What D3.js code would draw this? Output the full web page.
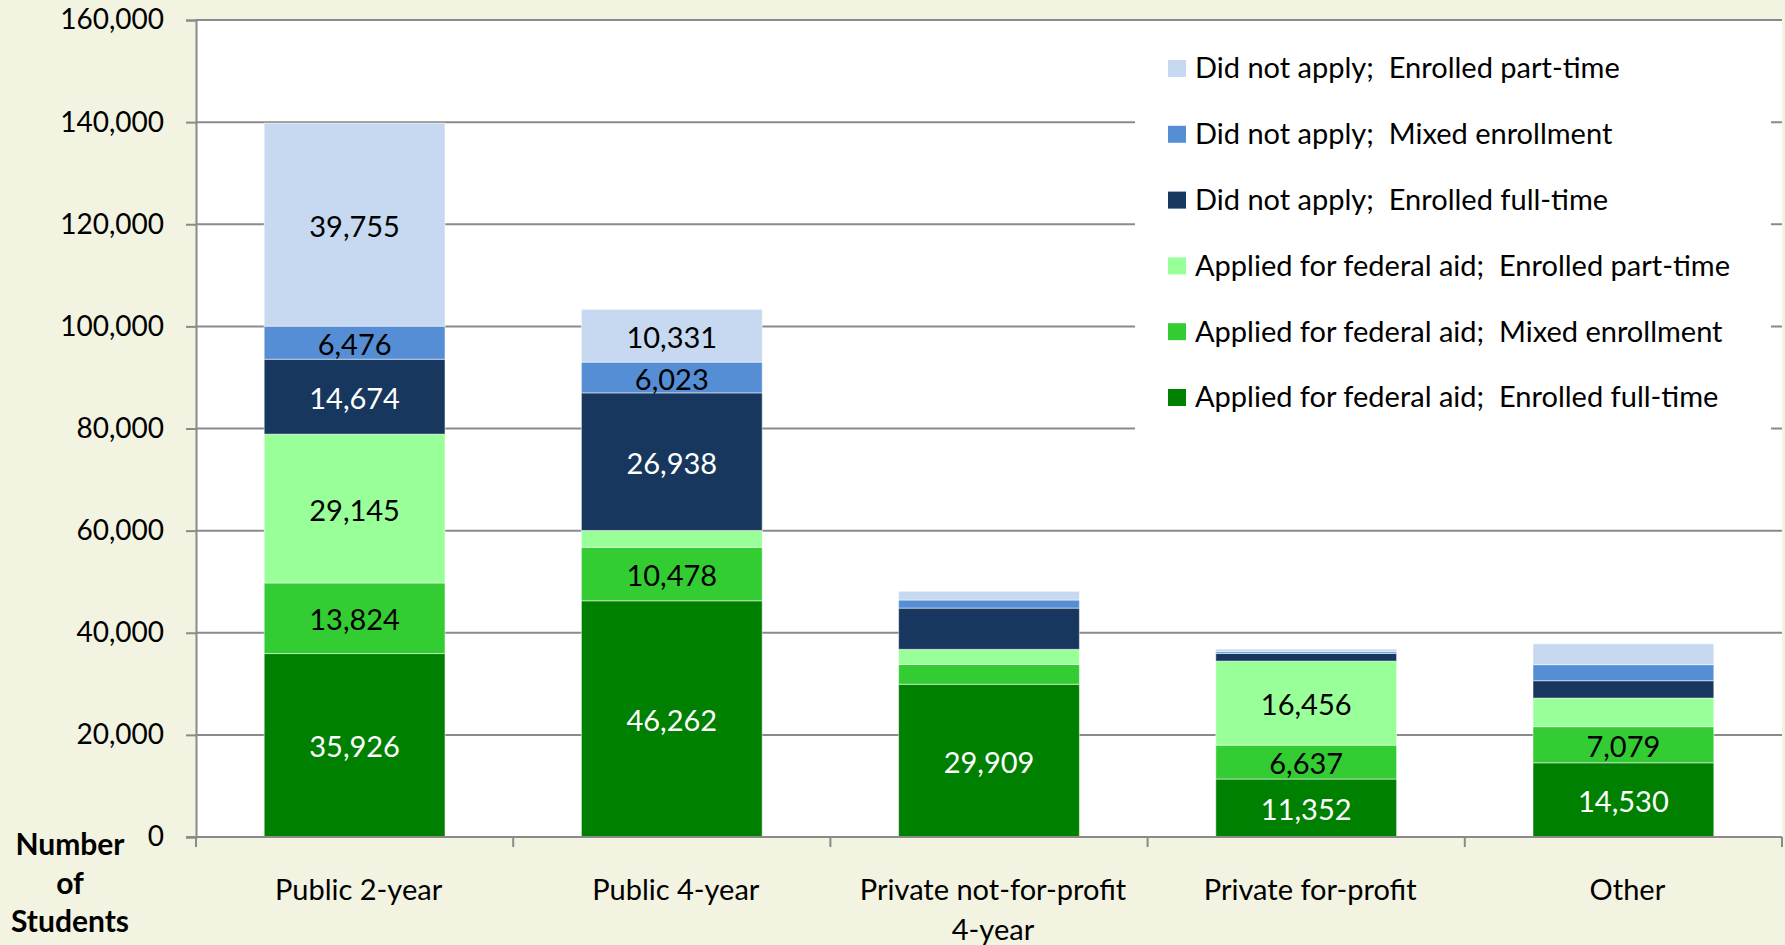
<!DOCTYPE html>
<html lang="en">
<head>
  <meta charset="UTF-8">
  <title>Number of students by sector</title>
  <style>
    body {
      margin: 0;
      background: #f2f3e1;
      font-family: Lato, sans-serif;
    }
  </style>
  <script src="https://cdn.jsdelivr.net/npm/d3@7"></script>
</head>
<body>
  <script>
    var categories = ["Public 2-year", "Public 4-year", "Private not-for-profit 4-year", "Private for-profit", "Other"];

    // stacked from the bottom up
    var seriesNames = [
      "Applied for federal aid;  Enrolled full-time",
      "Applied for federal aid;  Mixed enrollment",
      "Applied for federal aid;  Enrolled part-time",
      "Did not apply;  Enrolled full-time",
      "Did not apply;  Mixed enrollment",
      "Did not apply;  Enrolled part-time"
    ];
    var appliedFullTime = [35926, 46262, 29909, 11352, 14530];
    var appliedMixed = [13824, 10478, 3880, 6637, 7079];
    var appliedPartTime = [29145, 3300, 2960, 16456, 5600];
    var notAppliedFullTime = [14674, 26938, 8080, 1500, 3400];
    var notAppliedMixed = [6476, 6023, 1580, 350, 3150];
    var notAppliedPartTime = [39755, 10331, 1710, 500, 4080];
    // which segments carry a value label (same order as the series)
    var labelShown = [
      [true, true, true, true, true],
      [true, true, false, true, true],
      [true, false, false, true, false],
      [true, true, false, false, false],
      [true, true, false, false, false],
      [true, true, false, false, false]
    ];
    var colors = ["#008000", "#33cc33", "#99ff99", "#17375e", "#558ed5", "#c6d9f1"];
    var labelColors = ["#fff", "#000", "#000", "#fff", "#000", "#000"];
    var yTicks = [0, 20000, 40000, 60000, 80000, 100000, 120000, 140000, 160000];

    var seriesValues = [appliedFullTime, appliedMixed, appliedPartTime,
      notAppliedFullTime, notAppliedMixed, notAppliedPartTime];

    var rows = categories.map(function(c, i) {
      var r = { category: c };
      seriesNames.forEach(function(s, j) { r[s] = seriesValues[j][i]; });
      return r;
    });

    var W = 1785, H = 945;
    var plotL = 196, plotR = 1782, plotT = 20, plotB = 837;
    var fontSize = "29px";

    var svg = d3.select("body").append("svg")
      .attr("width", W).attr("height", H)
      .style("display", "block");

    svg.append("rect")
      .attr("x", plotL).attr("y", plotT)
      .attr("width", plotR - plotL).attr("height", plotB - plotT)
      .attr("fill", "#fff");

    var x = d3.scaleBand().domain(categories).range([plotL, plotR])
      .paddingInner(0.43).paddingOuter(0.215);
    var y = d3.scaleLinear().domain([0, 160000]).range([plotB, plotT]);

    // gridlines
    svg.append("g").selectAll("line")
      .data(yTicks.filter(function(d) { return d > 0; }))
      .enter().append("line")
      .attr("x1", plotL).attr("x2", plotR)
      .attr("y1", function(d) { return y(d); })
      .attr("y2", function(d) { return y(d); })
      .attr("stroke", "#8a8a8a")
      .attr("stroke-width", 2);

    // stacked bars
    var stacked = d3.stack().keys(seriesNames)(rows);

    var layers = svg.append("g").selectAll("g")
      .data(stacked)
      .enter().append("g")
      .attr("fill", function(d, i) { return colors[i]; });

    layers.selectAll("rect")
      .data(function(d) { return d; })
      .enter().append("rect")
      .attr("x", function(d) { return x(d.data.category); })
      .attr("y", function(d) { return y(d[1]); })
      .attr("width", x.bandwidth())
      .attr("height", function(d) { return y(d[0]) - y(d[1]); })
      .attr("stroke", "rgba(255,255,255,0.5)")
      .attr("stroke-width", 1);

    // value labels
    var fmt = d3.format(",");
    stacked.forEach(function(layer, j) {
      svg.append("g").selectAll("text")
        .data(layer.filter(function(d, i) { return labelShown[j][i]; }))
        .enter().append("text")
        .attr("x", function(d) { return x(d.data.category) + x.bandwidth() / 2; })
        .attr("y", function(d) { return (y(d[0]) + y(d[1])) / 2; })
        .attr("dy", "0.42em")
        .attr("text-anchor", "middle")
        .attr("fill", labelColors[j])
        .style("font-size", fontSize)
        .text(function(d) { return fmt(d[1] - d[0]); });
    });

    // y axis
    var yAxis = svg.append("g")
      .attr("transform", "translate(" + plotL + ",0)")
      .call(d3.axisLeft(y).tickValues(yTicks).tickFormat(fmt).tickSize(10).tickPadding(22));
    yAxis.select(".domain").attr("stroke", "#8a8a8a").attr("stroke-width", 2);
    yAxis.selectAll(".tick line").attr("stroke", "#8a8a8a").attr("stroke-width", 2);
    yAxis.selectAll(".tick text").style("font-size", "28px").attr("fill", "#000")
      .style("font-family", "Lato, sans-serif");

    // x axis: ticks between categories
    var boundaries = categories.map(function(c) { return x(c) - x.step() * x.paddingInner() / 2; });
    boundaries.push(plotR);
    svg.append("line")
      .attr("x1", plotL - 10).attr("x2", plotR)
      .attr("y1", plotB).attr("y2", plotB)
      .attr("stroke", "#8a8a8a").attr("stroke-width", 2);
    svg.append("g").selectAll("line")
      .data(boundaries)
      .enter().append("line")
      .attr("x1", function(d) { return d; }).attr("x2", function(d) { return d; })
      .attr("y1", plotB).attr("y2", plotB + 10)
      .attr("stroke", "#8a8a8a").attr("stroke-width", 2);

    var catLabels = svg.append("g").selectAll("text")
      .data(categories)
      .enter().append("text")
      .attr("x", function(d) { return x(d) + x.bandwidth() / 2 + 4; })
      .attr("y", 900)
      .attr("text-anchor", "middle")
      .style("font-size", fontSize);
    catLabels.each(function(d) {
      var t = d3.select(this);
      var words = d.split(" ");
      var lines = [];
      var line = "";
      words.forEach(function(w) {
        var test = line ? line + " " + w : w;
        if (test.length > 22 && line) { lines.push(line); line = w; } else { line = test; }
      });
      lines.push(line);
      lines.forEach(function(l, i) {
        t.append("tspan").attr("x", t.attr("x")).attr("dy", i ? 40 : 0).text(l);
      });
    });

    // y axis title, in the bottom-left corner
    var title = svg.append("text")
      .attr("x", 70).attr("y", 855)
      .attr("text-anchor", "middle")
      .style("font-size", "30px")
      .style("font-weight", "bold");
    ["Number", "of", "Students"].forEach(function(l, i) {
      title.append("tspan").attr("x", 70).attr("dy", i ? 38.5 : 0).text(l);
    });

    // legend
    var legend = svg.append("g");
    legend.append("rect")
      .attr("x", 1135).attr("y", 22)
      .attr("width", 636).attr("height", 420)
      .attr("fill", "#fff");
    var legendOrder = [5, 4, 3, 2, 1, 0];
    var items = legend.selectAll("g.item")
      .data(legendOrder)
      .enter().append("g")
      .attr("class", "item")
      .attr("transform", function(d, i) { return "translate(1168," + (68 + i * 65.8) + ")"; });
    items.append("rect")
      .attr("x", 0).attr("y", -8)
      .attr("width", 18).attr("height", 17)
      .attr("fill", function(d) { return colors[d]; });
    items.append("text")
      .attr("x", 27).attr("dy", "0.36em")
      .style("font-size", fontSize)
      .style("white-space", "pre")
      .text(function(d) { return seriesNames[d]; });
  </script>
</body>
</html>
